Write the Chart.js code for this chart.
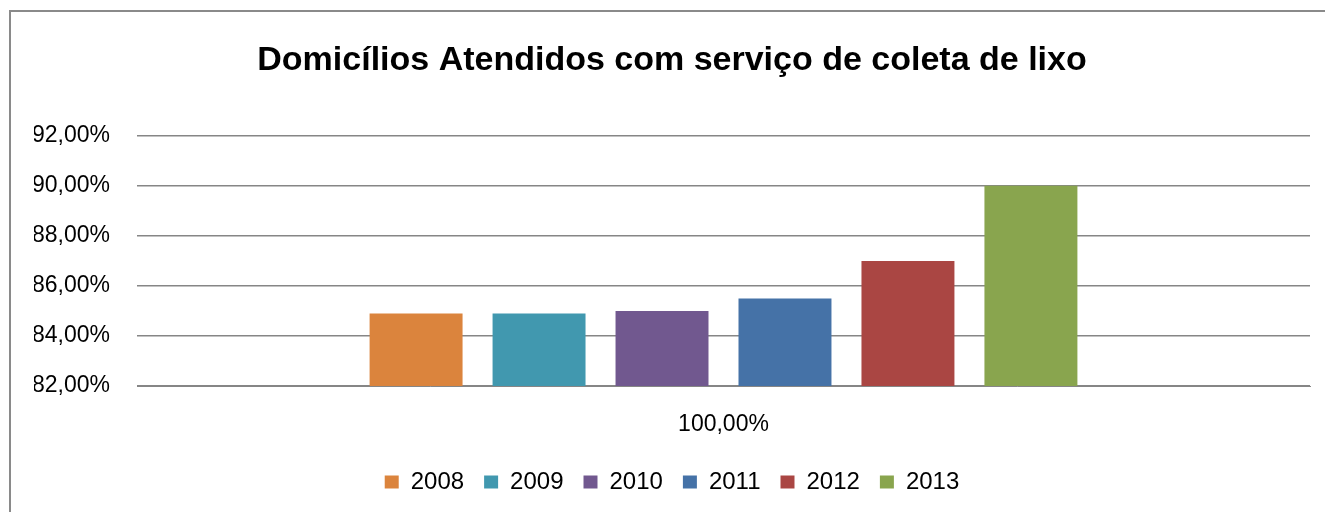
<!DOCTYPE html>
<html>
<head>
<meta charset="utf-8">
<script src="https://cdn.jsdelivr.net/npm/chart.js@4/dist/chart.umd.min.js"></script>
<style>
  body { margin: 0; background: #fff; overflow: hidden; }
</style>
</head>
<body>
<canvas id="chart" width="1325" height="512"></canvas>
<script>
const categories = ['100,00%'];
const years = ['2008', '2009', '2010', '2011', '2012', '2013'];
const values = [84.9, 84.9, 85.0, 85.5, 87.0, 90.0];
const colors = ['#DB843D', '#4198AF', '#71588F', '#4572A7', '#AA4643', '#89A54E'];

const yMin = 82, yMax = 92, yStep = 2;

const ctx = document.getElementById('chart').getContext('2d');

const datasets = years.map(function (y, i) {
    return {
        label: y,
        data: [values[i]],
        backgroundColor: colors[i],
        borderWidth: 0
    };
});

// grey frame of the chart box (only left and top edges show in the picture)
const framePlugin = {
    id: 'frame',
    beforeDraw: function (chart) {
        const c = chart.ctx;
        c.save();
        c.fillStyle = '#fff';
        c.fillRect(0, 0, chart.width, chart.height);
        c.strokeStyle = '#8a8a8a';
        c.lineWidth = 2;
        c.beginPath();
        c.moveTo(10, chart.height);
        c.lineTo(10, 11);
        c.lineTo(chart.width, 11);
        c.stroke();
        c.restore();
    }
};

new Chart(ctx, {
    type: 'bar',
    data: {
        labels: categories,
        datasets: datasets
    },
    plugins: [framePlugin],
    options: {
        responsive: false,
        animation: false,
        categoryPercentage: 0.629,
        barPercentage: 0.756,
        layout: {
            padding: { left: 34, right: 15, top: 0, bottom: 8 }
        },
        plugins: {
            title: {
                display: true,
                text: 'Domicílios Atendidos com serviço de coleta de lixo',
                color: '#000',
                font: { family: "'Liberation Sans', sans-serif", size: 34, weight: 'bold' },
                padding: { top: 40, bottom: 55 }
            },
            legend: {
                position: 'bottom',
                labels: {
                    color: '#000',
                    font: { family: "'Liberation Sans', sans-serif", size: 24 },
                    boxWidth: 14,
                    boxHeight: 13,
                    padding: 20
                }
            },
            tooltip: { enabled: false }
        },
        scales: {
            x: {
                grid: { display: false, drawTicks: false },
                border: { color: '#868686' },
                ticks: {
                    color: '#000',
                    padding: 25,
                    font: { family: "'Liberation Sans', sans-serif", size: 23 }
                },
                afterFit: function (axis) { axis.height = 64; }
            },
            y: {
                min: yMin,
                max: yMax,
                grid: { color: '#868686', lineWidth: 1.5, drawTicks: false },
                border: { display: false },
                ticks: {
                    stepSize: yStep,
                    color: '#000',
                    padding: 27,
                    font: { family: "'Liberation Sans', sans-serif", size: 23 },
                    callback: function (v) { return v.toFixed(2).replace('.', ',') + '%'; }
                },
                afterFit: function (axis) { axis.width = 103; }
            }
        }
    }
});
</script>
</body>
</html>
